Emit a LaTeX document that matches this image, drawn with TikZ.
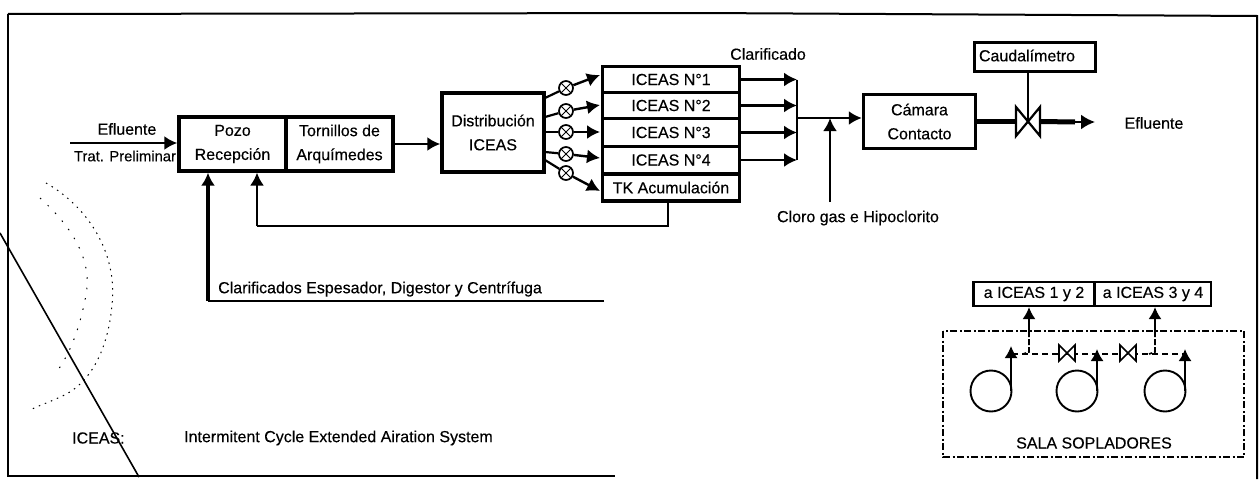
\documentclass[tikz,border=0pt]{standalone}
\usepackage{fontspec}
\setmainfont[FakeBold=0.3]{Liberation Sans}
\usetikzlibrary{arrows.meta}
\tikzset{
  x=1pt,y=-1pt,
  lbl/.style={inner sep=0pt,font=\fontsize{16}{18}\selectfont,align=center,text=black},
  boxA/.style={draw,line width=3.4pt,inner sep=0pt,font=\fontsize{16}{24}\selectfont,align=center},
  boxB/.style={draw,line width=3.2pt,inner sep=0pt,font=\fontsize{16}{18}\selectfont,align=center},
  boxC/.style={draw,line width=2.2pt,inner sep=0pt,font=\fontsize{16}{18}\selectfont,align=center},
  flow/.style={line width=2.4pt,-{Latex[length=13pt,width=14pt]}},
  pipe/.style={line width=2pt},
  airline/.style={line width=1.7pt,dash pattern=on 6pt off 4pt},
  airtip/.style={line width=1.8pt,-{Latex[length=12pt,width=13pt]}},
  dashframe/.style={line width=1.9pt,dash pattern=on 7pt off 2.5pt on 2pt off 2.5pt},
  xvalve/.style={circle,draw,line width=1.7pt,minimum size=14pt,inner sep=0pt,
    path picture={\draw[line width=1pt] (path picture bounding box.north west)--(path picture bounding box.south east)
      (path picture bounding box.north east)--(path picture bounding box.south west);}},
  blower/.style={circle,draw,line width=1.9pt,minimum size=41pt,inner sep=0pt},
  pt/.style={inner sep=0pt,minimum size=0pt}
}
\begin{document}
\begin{tikzpicture}
\useasboundingbox (0,0) rectangle (1260,479);
\fill[white] (0,0) rectangle (1260,479);

% sheet frame and scan marks
\draw[line width=1.6pt] (8,14) -- (8,476) -- (615,476);
\draw[line width=2pt] (8,14) -- (700,13) -- (1257,16) -- (1257,479);
\draw[line width=1.6pt] (0,233) -- (139,477);
\draw[line width=1pt,dash pattern=on 1.5pt off 5pt] (46,183) .. controls (85,205) and (118,250) .. (112,305)
   .. controls (108,350) and (90,385) .. (60,397) .. controls (50,402) and (40,405) .. (30,410);
\draw[line width=1pt,dash pattern=on 1.5pt off 9pt] (40,198) .. controls (70,225) and (95,260) .. (85,300)
   .. controls (80,325) and (72,350) .. (58,370);

% main process boxes
\node[boxA,minimum width=107pt,minimum height=54pt] (pozo) at (232.5,144) {Pozo\\Recepción};
\node[boxA,minimum width=107pt,minimum height=54pt] (torn) at (339.5,144) {Tornillos de\\Arquímedes};
\node[boxA,minimum width=102pt,minimum height=79pt] (dist) at (493,132.5) {Distribución\\ICEAS};
\node[boxB,minimum width=137pt,minimum height=26pt] (i1) at (671,79.5) {ICEAS N°1};
\node[boxB,minimum width=137pt,minimum height=26pt] (i2) at (671,105.5) {ICEAS N°2};
\node[boxB,minimum width=137pt,minimum height=28pt] (i3) at (671,132.5) {ICEAS N°3};
\node[boxB,minimum width=137pt,minimum height=27pt] (i4) at (671,160) {ICEAS N°4};
\node[boxB,minimum width=137pt,minimum height=27pt] (tk) at (671,187.5) {TK Acumulación};
\node[boxA,minimum width=112pt,minimum height=54pt] (cam) at (919.5,121.5) {Cámara\\Contacto};
\node[boxA,minimum width=121pt,minimum height=29pt] (caud) at (1035,57) {};
\node[lbl] (caudt) at (1027,55.5) {Caudalímetro};

% labels
\node[lbl] (l1) at (127,129) {Efluente};
\node[lbl,font=\fontsize{14.8}{18}\selectfont] (l2) at (125,156) {Trat. Preliminar};
\node[lbl] (l3) at (768,54) {Clarificado};
\node[lbl] (l4) at (858,218) {Cloro gas e Hipoclorito};
\node[lbl] (l5) at (1154,123) {Efluente};
\node[lbl,anchor=west] (l6) at (218,289) {Clarificados Espesador, Digestor y Centrífuga};
\node[lbl,anchor=west] (l7) at (72,438) {ICEAS:};
\node[lbl,anchor=west] (l8) at (184,438) {Intermitent Cycle Extended Airation System};

% inlet and forward flow
\coordinate (in) at (70,143);
\coordinate (pozoin) at (pozo.west |- in);
\draw[flow] (in) -- (pozoin);
\draw[flow] (torn.east) -- (dist.west |- torn.east);

% distribution valves
\node[xvalve] (v1) at (566,88) {};
\node[xvalve] (v2) at (566,111) {};
\node[xvalve] (v3) at (566,132) {};
\node[xvalve] (v4) at (566,154) {};
\node[xvalve] (v5) at (566,173) {};
\coordinate (d1) at (545,98);  \coordinate (t1) at (600,75);
\coordinate (d2) at (545,117); \coordinate (t2) at (600,105);
\coordinate (d3) at (545,132); \coordinate (t3) at (600,132);
\coordinate (d4) at (545,152); \coordinate (t4) at (600,158);
\coordinate (d5) at (545,160); \coordinate (t5) at (600,191);
\foreach \n in {1,...,5}{
  \draw[line width=2.2pt] (d\n) -- (v\n);
  \draw[flow] (v\n) -- (t\n);
}

% clarified collector
\coordinate (colT) at (797,79.5);
\coordinate (colB) at (797,160);
\coordinate (colM) at (797,118);
\draw[flow] (i1.east) -- (colT);
\draw[flow] (i2.east) -- (i2.east -| colT);
\draw[flow] (i3.east) -- (i3.east -| colT);
\draw[flow] (i4.east) -- (colB);
\draw[pipe] (colT) -- (colB);
\draw[flow] (colM) -- (cam.west |- colM);
\coordinate (clor) at (830,202);
\coordinate (clorj) at (830,118);
\draw[line width=2.6pt,-{Latex[length=13pt,width=14pt]}] (clor) -- (clorj);

% outlet valve
\node[pt] (valve) at (1028,121.5) {};
\coordinate (out) at (1095,122);
\draw[line width=5pt] (cam.east) -- (1016,121.5);
\draw[line width=5pt] (1040,121.5) -- (1075,122);
\draw[line width=2.4pt,-{Latex[length=14pt,width=15pt]}] (1075,122) -- (out);
\draw[line width=2.2pt,line join=miter,fill=white] (1016,107) -- (1040,136) -- (1040,107) -- (1016,136) -- cycle;
\draw[pipe] (caud.south -| valve) -- (valve);

% returns
\coordinate (rA) at (668,226);
\coordinate (rB) at (257,226);
\draw[pipe] (tk.south -| rA) -- (rA) -- (rB);
\draw[line width=2pt,-{Latex[length=13pt,width=14pt]}] (rB) -- (rB |- pozo.south);
\coordinate (cA) at (604,301);
\coordinate (cB) at (208,301);
\draw[pipe] (cA) -- (cB);
\draw[line width=4pt,-{Latex[length=13pt,width=14pt]}] (cB) -- (cB |- pozo.south);

% blower room
\node[boxC,minimum width=121pt,minimum height=24pt] (a12) at (1034,294) {a ICEAS 1 y 2};
\node[boxC,minimum width=116pt,minimum height=24pt] (a34) at (1153,294) {a ICEAS 3 y 4};
\draw[dashframe] (943,331) rectangle (1244,457);
\node[lbl] (sala) at (1094,443) {SALA SOPLADORES};
\coordinate (f1) at (1029,331);
\coordinate (f2) at (1155,331);
\draw[line width=1.7pt,-{Latex[length=12pt,width=13pt]}] (f1) -- (f1 |- a12.south);
\draw[line width=1.7pt,-{Latex[length=12pt,width=13pt]}] (f2) -- (f2 |- a34.south);

\node[blower] (b1) at (991,391) {};
\node[blower] (b2) at (1077,391) {};
\node[blower] (b3) at (1165,391) {};
\coordinate (u1) at (1011,346);
\coordinate (u2) at (1097,349);
\coordinate (u3) at (1185,349);
\coordinate (s1) at (1011,391);
\coordinate (s2) at (1097,391);
\coordinate (s3) at (1185,391);
\draw[airtip] (s1) -- (u1);
\draw[airtip] (s2) -- (u2);
\draw[airtip] (s3) -- (u3);

\coordinate (h0) at (1012,354);
\coordinate (h1) at (1185,354);
\draw[airline] (h0) -- (h1);
\draw[line width=1.7pt,dash pattern=on 6pt off 2pt] (f1) -- (1029,352) -- (1023,354);
\draw[line width=1.7pt,dash pattern=on 6pt off 2pt] (f2) -- (1155,352) -- (1149,354);

% air line valves
\node[pt] (w1) at (1067,353) {};
\node[pt] (w2) at (1128,353) {};
\draw[line width=1.6pt,line join=miter,fill=white] (1059,345) -- (1075,361) -- (1075,345) -- (1059,361) -- cycle;
\draw[line width=1.6pt,line join=miter,fill=white] (1120,345) -- (1136,361) -- (1136,345) -- (1120,361) -- cycle;
\end{tikzpicture}
\end{document}
